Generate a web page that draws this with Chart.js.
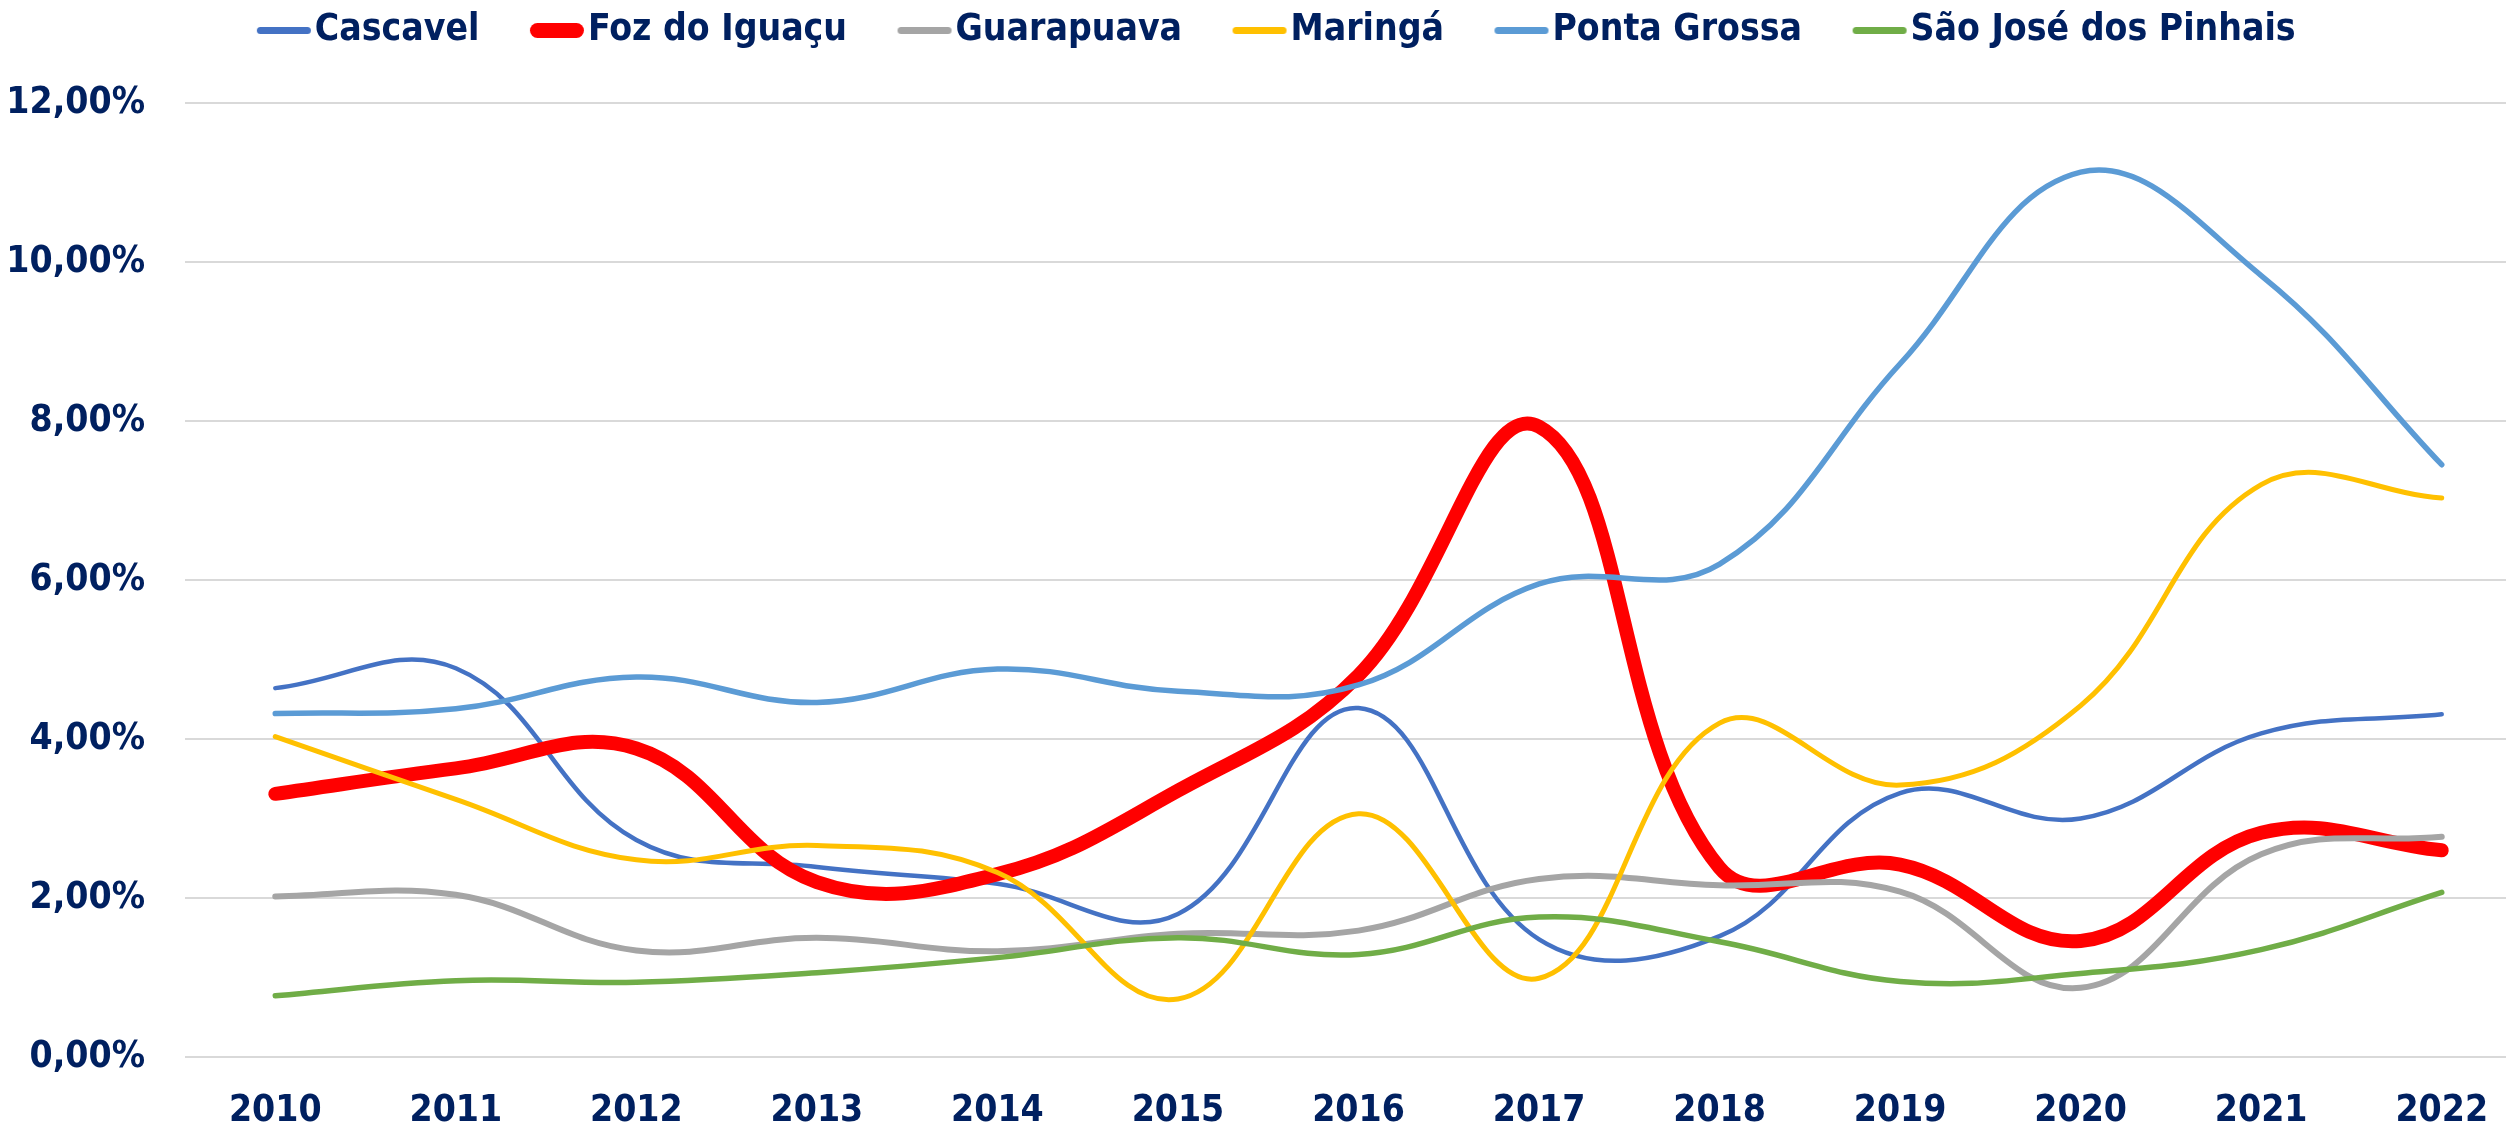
<!DOCTYPE html>
<html>
<head>
<meta charset="utf-8">
<script src="https://cdn.jsdelivr.net/npm/chart.js@4.4.1/dist/chart.umd.min.js"></script>
<style>
  html, body { margin: 0; padding: 0; background: #ffffff; overflow: hidden; }
  #wrap { width: 2540px; height: 1131px; }
</style>
</head>
<body>
<div id="wrap"><canvas id="c" width="2540" height="1131"></canvas></div>
<script>
// ---- data ----
const years = ['2010','2011','2012','2013','2014','2015','2016','2017','2018','2019','2020','2021','2022'];
const cascavel     = [4.64, 4.89, 2.73, 2.39, 2.18, 1.80, 4.39, 1.48, 1.52, 3.32, 3.00, 4.07, 4.31];
const fozDoIguacu  = [3.31, 3.63, 3.88, 2.20, 2.30, 3.35, 4.80, 7.93, 2.38, 2.42, 1.46, 2.82, 2.60];
const guarapuava   = [2.02, 2.04, 1.34, 1.50, 1.33, 1.55, 1.59, 2.24, 2.16, 2.08, 0.87, 2.55, 2.77];
const maringa      = [4.03, 3.24, 2.48, 2.66, 2.32, 0.73, 3.06, 0.99, 4.20, 3.42, 4.42, 7.20, 7.03];
const pontaGrossa  = [4.32, 4.38, 4.78, 4.46, 4.88, 4.60, 4.68, 5.95, 6.20, 8.72, 11.13, 9.83, 7.45];
const saoJose      = [0.77, 0.96, 0.94, 1.06, 1.25, 1.50, 1.29, 1.76, 1.45, 0.95, 1.05, 1.35, 2.07];
const seriesNames  = ['Cascavel', 'Foz do Iguaçu', 'Guarapuava', 'Maringá', 'Ponta Grossa', 'São José dos Pinhais'];
const yMin = 0, yMax = 12, yStep = 2;

// ---- styles ----
const colors       = ['#4472C4', '#FF0000', '#A5A5A5', '#FFC000', '#5B9BD5', '#70AD47'];
const lineWidths   = [4.5, 14, 6, 5, 5.5, 5.5];
const legendWidths = [7, 15, 7, 7, 7, 7];
const textColor = '#002060';

// ---- pick the narrowest available bold face (reference uses a condensed face) ----
const probe = document.createElement('canvas').getContext('2d');
function tw(font, txt) { probe.font = font; return probe.measureText(txt).width; }
const joined = seriesNames.join('');
let fontFamily = "'DejaVu Sans Condensed', 'DejaVu Sans', sans-serif";
let fontWeight = 'bold';
(function () {
  const mono = tw('bold 40px monospace', joined);
  const lib = tw("bold 40px 'Liberation Sans Narrow', monospace", joined);
  if (Math.abs(lib - mono) > 1) { fontFamily = "'Liberation Sans Narrow', sans-serif"; return; }
  const nN = tw("bold 40px 'Noto Sans'", joined);
  probe.font = 'bold 40px monospace';
  probe.font = "bold condensed 40px 'Noto Sans'";
  const nC = probe.measureText(joined).width;
  if (nC < nN * 0.93) { fontFamily = "'Noto Sans', sans-serif"; fontWeight = 'bold condensed'; }
})();
// size chosen so the legend texts span about what they span in the reference
const measured40 = seriesNames.reduce((s, n) => s + tw(fontWeight + ' 40px ' + fontFamily, n), 0);
let fsz = Math.min(44, Math.round(40 * 1333 / measured40 * 1.08 * 2) / 2);

// ---- legend geometry ----
const BOXW = 60;
const gapBox = fsz / 2;
const legendPad = Math.max(20, Math.round(108 - BOXW - gapBox));
const legendTop = Math.round(30 - legendPad - fsz / 2);
const legendBottom = legendTop + fsz + legendPad + 10;
const spacer = 103 - legendBottom;

function makeMarker(i) {
  const lw = legendWidths[i];
  const half = BOXW / 2 + gapBox;
  const IW = Math.ceil(2 * half + 20), IH = Math.ceil(lw + 6);
  const cv = document.createElement('canvas');
  cv.width = IW; cv.height = IH;
  const g = cv.getContext('2d');
  g.strokeStyle = colors[i]; g.lineWidth = lw; g.lineCap = 'round';
  const cx = IW / 2, cy = IH / 2;
  const textStart = cx + half;
  const visEnd = textStart - 4, visStart = textStart - 58;
  g.beginPath(); g.moveTo(visStart + lw / 2, cy); g.lineTo(visEnd - lw / 2, cy); g.stroke();
  return cv;
}
const markers = seriesNames.map((_, i) => makeMarker(i));

const seriesData = [cascavel, fozDoIguacu, guarapuava, maringa, pontaGrossa, saoJose];

const datasets = seriesNames.map((name, i) => ({
  label: name,
  data: seriesData[i],
  borderColor: colors[i],
  backgroundColor: colors[i],
  borderWidth: lineWidths[i],
  tension: 0.4,
  pointRadius: 0,
  pointHoverRadius: 0,
  borderCapStyle: 'round',
  borderJoinStyle: 'round',
  fill: false,
  order: seriesNames.length - i
}));

const font = { family: fontFamily, size: fsz, weight: fontWeight };

const chart = new Chart(document.getElementById('c'), {
  type: 'line',
  data: { labels: years, datasets },
  options: {
    responsive: false,
    animation: false,
    devicePixelRatio: 1,
    layout: { padding: { left: 0, right: 8, top: legendTop, bottom: 0 } },
    plugins: {
      tooltip: { enabled: false },
      title: {
        display: true, text: ' ', weight: 500, position: 'top',
        font: { size: 10, lineHeight: 1 },
        padding: { top: spacer - 10, bottom: 0 }
      },
      legend: {
        display: true,
        position: 'top',
        align: 'center',
        weight: 1000,
        labels: {
          usePointStyle: true,
          pointStyleWidth: BOXW,
          boxHeight: fsz,
          padding: legendPad,
          color: textColor,
          font: font,
          sort: (a, b) => a.datasetIndex - b.datasetIndex,
          generateLabels: (ch) => {
            const items = Chart.defaults.plugins.legend.labels.generateLabels(ch);
            items.forEach(it => {
              it.pointStyle = markers[it.datasetIndex];
              it.lineWidth = 0;
            });
            return items;
          }
        }
      }
    },
    scales: {
      x: {
        offset: true,
        grid: { display: false, drawTicks: false },
        border: { display: false },
        ticks: {
          color: textColor,
          padding: Math.round(54 - fsz * 0.6),
          font: font,
          maxRotation: 0, autoSkip: false
        },
        afterFit: (s) => { s.height = 74; }
      },
      y: {
        min: yMin, max: yMax,
        grid: { color: '#D9D9D9', lineWidth: 2, drawTicks: false },
        border: { display: false },
        ticks: {
          stepSize: yStep,
          color: textColor,
          padding: 40,
          font: font,
          callback: (v) => v.toFixed(2).replace('.', ',') + '%'
        },
        afterFit: (s) => { s.width = 185; }
      }
    }
  }
});
</script>
</body>
</html>
